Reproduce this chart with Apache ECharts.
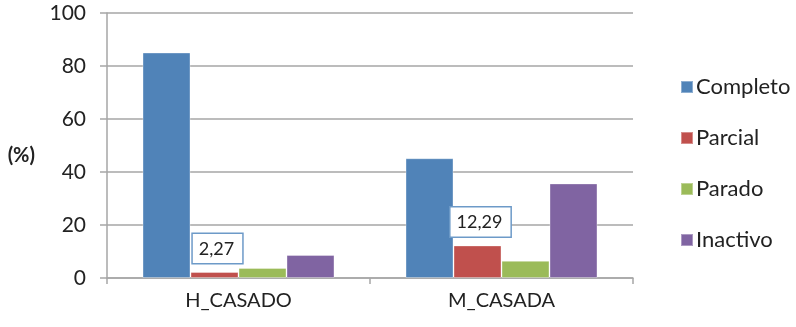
<!DOCTYPE html>
<html>
<head>
<meta charset="utf-8">
<script src="https://cdn.jsdelivr.net/npm/echarts@6/dist/echarts.min.js"></script>
<style>
html,body{margin:0;padding:0;background:#fff;}
#c{width:796px;height:327px;}
</style>
</head>
<body>
<div id="c"></div>
<script>
const categories = ['H_CASADO', 'M_CASADA'];
const seriesNames = ['Completo', 'Parcial', 'Parado', 'Inactivo'];
const completo = [85.1, 45.2];
const parcial = [2.27, 12.29];
const parado = [3.8, 6.5];
const inactivo = [8.7, 35.7];
const yTicks = [0, 20, 40, 60, 80, 100];
const colors = ['#5083b8', '#c0504d', '#9bbb59', '#8064a2'];

const FONT = 'Lato';
const values = [completo, parcial, parado, inactivo];

const chart = echarts.init(document.getElementById('c'));
chart.setOption({
  animation: false,
  textStyle: { fontFamily: FONT },
  grid: { left: 107, right: 163, top: 13, bottom: 49 },
  legend: {
    orient: 'vertical',
    left: 680,
    top: 76,
    padding: 0,
    itemWidth: 12,
    itemHeight: 12,
    itemGap: 29,
    icon: 'rect',
    textStyle: { fontFamily: FONT, fontSize: 22, color: '#222', padding: [0, 0, 0, -2] },
    data: seriesNames
  },
  xAxis: {
    type: 'category',
    data: categories,
    axisLine: { lineStyle: { color: '#a6a6a6', width: 1.5 } },
    axisTick: { show: true, length: 6, lineStyle: { color: '#a6a6a6', width: 1.5 } },
    axisLabel: { fontFamily: FONT, fontSize: 20, color: '#222', margin: 13 }
  },
  yAxis: {
    type: 'value',
    min: yTicks[0],
    max: yTicks[yTicks.length - 1],
    interval: yTicks[1] - yTicks[0],
    name: '(%)',
    nameLocation: 'middle',
    nameRotate: 0,
    nameGap: 72,
    nameTextStyle: { fontFamily: FONT, fontSize: 20, fontWeight: 'bold', color: '#222', verticalAlign: 'top', padding: [0, 0, 0, 0] },
    axisLine: { show: true, lineStyle: { color: '#a6a6a6', width: 1.5 } },
    axisTick: { show: true, length: 7, lineStyle: { color: '#a6a6a6', width: 1.5 } },
    axisLabel: { fontFamily: FONT, fontSize: 21, color: '#222', margin: 21 },
    splitLine: { lineStyle: { color: '#a6a6a6', width: 1.5 } }
  },
  series: seriesNames.map((name, i) => ({
    name: name,
    type: 'bar',
    data: values[i],
    barGap: '0%',
    barCategoryGap: '27%',
    itemStyle: { color: colors[i], borderColor: 'rgba(255,255,255,0.35)', borderWidth: 1 },
    label: name === 'Parcial' ? {
      show: true,
      position: 'top',
      distance: 9,
      offset: [3, 0],
      formatter: p => String(p.value).replace('.', ','),
      fontFamily: FONT,
      fontSize: 18,
      color: '#222',
      backgroundColor: '#fff',
      borderColor: '#6d9ac8',
      borderWidth: 1.5,
      padding: [6, 8, 5, 6]
    } : { show: false }
  }))
});
</script>
</body>
</html>
